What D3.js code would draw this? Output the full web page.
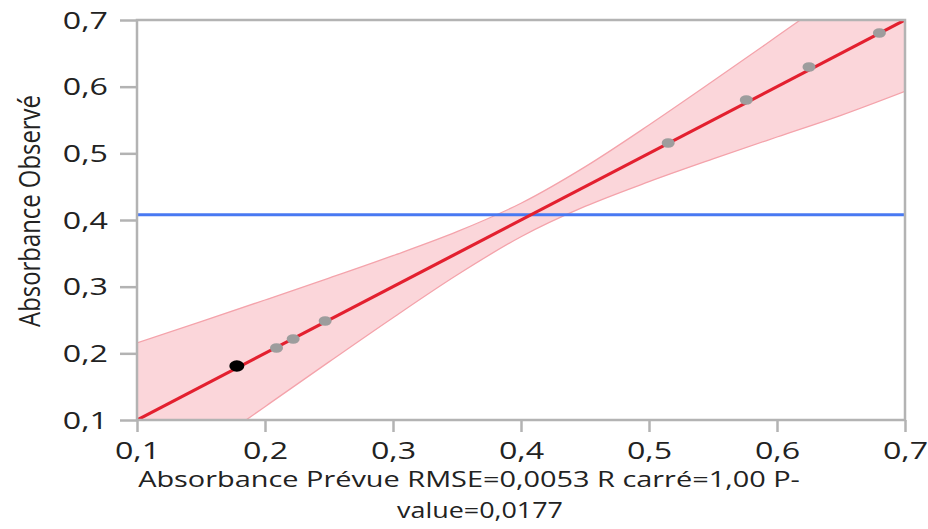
<!DOCTYPE html>
<html><head><meta charset="utf-8">
<script src="https://cdn.jsdelivr.net/npm/d3@7"></script>
<style>body{margin:0;background:#fff}</style>
</head><body><svg id="c" width="928" height="529"></svg>
<script>
// ---- data ----
const xTicks = [0.1, 0.2, 0.3, 0.4, 0.5, 0.6, 0.7];
const yTicks = [0.1, 0.2, 0.3, 0.4, 0.5, 0.6, 0.7];
const tickLabels = ["0,1", "0,2", "0,3", "0,4", "0,5", "0,6", "0,7"];
const predX = [0.178, 0.209, 0.222, 0.247, 0.515, 0.576, 0.625, 0.680];
const obsY  = [0.181, 0.208, 0.2215, 0.2485, 0.5155, 0.580, 0.6295, 0.6805];
const pointKind = ["excluded", "row", "row", "row", "row", "row", "row", "row"];
const fitX = [0.1, 0.7];
const fitY = [0.1, 0.7];
const meanY = [0.408];
const bandX     = [0.10, 0.15, 0.20, 0.25, 0.30, 0.35, 0.40, 0.45, 0.50, 0.55, 0.60, 0.65, 0.70];
const bandUpper = [0.2155, 0.2476, 0.2800, 0.3128, 0.3465, 0.3825, 0.4251, 0.4797, 0.5425, 0.6084, 0.6755, 0.7430, 0.8109];
const bandLower = [-0.0155, 0.0524, 0.1200, 0.1872, 0.2535, 0.3175, 0.3749, 0.4203, 0.4575, 0.4916, 0.5245, 0.5570, 0.5930];
const xLabelLines = ["Absorbance Prévue RMSE=0,0053 R carré=1,00 P-", "value=0,0177"];
const yLabel = "Absorbance Observé";

// ---- layout ----
const L = 137, R = 905, T = 20, B = 420;
const SX = 1.4; // horizontal text stretch
const FONT = "'Open Sans', 'Noto Sans', sans-serif";
const GRAY = "#b3b3b3";
const TXT = "#222";
const svg = d3.select("#c");
const x = d3.scaleLinear().domain([0.1, 0.7]).range([L, R]);
const y = d3.scaleLinear().domain([0.1, 0.7]).range([B, T]);

svg.append("clipPath").attr("id", "clip").append("rect")
  .attr("x", L).attr("y", T).attr("width", R - L).attr("height", B - T);
const plot = svg.append("g").attr("clip-path", "url(#clip)");

const bandData = bandX.map((d, i) => ({x: d, lo: bandLower[i], hi: bandUpper[i]}));
plot.append("path").datum(bandData)
  .attr("d", d3.area().curve(d3.curveMonotoneX).x(d => x(d.x)).y0(d => y(d.lo)).y1(d => y(d.hi)))
  .attr("fill", "#fbd6da");
const edge = d3.line().curve(d3.curveMonotoneX).x(d => x(d[0])).y(d => y(d[1]));
plot.append("path").attr("d", edge(bandX.map((d, i) => [d, bandUpper[i]])))
  .attr("fill", "none").attr("stroke", "#f4a3ab").attr("stroke-width", 1.3);
plot.append("path").attr("d", edge(bandX.map((d, i) => [d, bandLower[i]])))
  .attr("fill", "none").attr("stroke", "#f4a3ab").attr("stroke-width", 1.3);

plot.append("line").attr("x1", L).attr("x2", R).attr("y1", y(meanY[0])).attr("y2", y(meanY[0]))
  .attr("stroke", "#4879f2").attr("stroke-width", 3);
const fitLine = d3.line().x(d => x(d[0])).y(d => y(d[1]));
plot.append("path").attr("d", fitLine(fitX.map((d, i) => [d, fitY[i]])))
  .attr("fill", "none").attr("stroke", "#e3202f").attr("stroke-width", 3.2);

plot.selectAll("ellipse.pt").data(predX.map((d, i) => ({x: d, y: obsY[i], k: pointKind[i]})))
  .join("ellipse").attr("class", "pt")
  .attr("cx", d => x(d.x)).attr("cy", d => y(d.y))
  .attr("rx", d => d.k === "excluded" ? 7.5 : 6.5)
  .attr("ry", d => d.k === "excluded" ? 5.8 : 4.8)
  .attr("fill", d => d.k === "excluded" ? "#000" : "#9d9d9d");

// axes
const gx = svg.append("g").attr("transform", `translate(0,${B})`)
  .call(d3.axisBottom(x).tickValues(xTicks).tickFormat((v, i) => tickLabels[i]).tickSize(12).tickSizeOuter(0));
const gy = svg.append("g").attr("transform", `translate(${L},0)`)
  .call(d3.axisLeft(y).tickValues(yTicks).tickFormat((v, i) => tickLabels[i]).tickSize(17).tickSizeOuter(0));
[gx, gy].forEach(g => {
  g.select(".domain").remove();
  g.selectAll(".tick line").attr("stroke", GRAY).attr("stroke-width", 2.5);
  g.selectAll(".tick text").attr("fill", TXT).style("font-family", FONT).style("font-size", "23px");
});
gx.selectAll(".tick text").attr("y", 39).attr("dy", null).attr("transform", `scale(${SX},1)`);
gy.selectAll(".tick text").attr("x", -29 / SX).attr("dy", "0.36em").attr("transform", `scale(${SX},1)`);

// frame
svg.append("rect").attr("x", L).attr("y", T).attr("width", R - L).attr("height", B - T)
  .attr("fill", "none").attr("stroke", GRAY).attr("stroke-width", 2.5);

// axis titles (stretched to match the reference's widths)
const lx = [469, 480], ly = [487, 518], lw = [662, 166];
xLabelLines.forEach((t, i) => {
  const el = svg.append("text").attr("text-anchor", "middle").attr("fill", TXT)
    .style("font-family", FONT).style("font-size", "22px").text(t);
  const s = lw[i] / el.node().getComputedTextLength();
  el.attr("transform", `translate(${lx[i]},${ly[i]}) scale(${s},1)`);
});
const yl = svg.append("text").attr("text-anchor", "middle").attr("fill", TXT)
  .style("font-family", FONT).style("font-size", "21px").text(yLabel);
const ys = 232 / yl.node().getComputedTextLength();
yl.attr("transform", `translate(40,211) scale(${SX},${ys}) rotate(-90)`);
</script></body></html>
